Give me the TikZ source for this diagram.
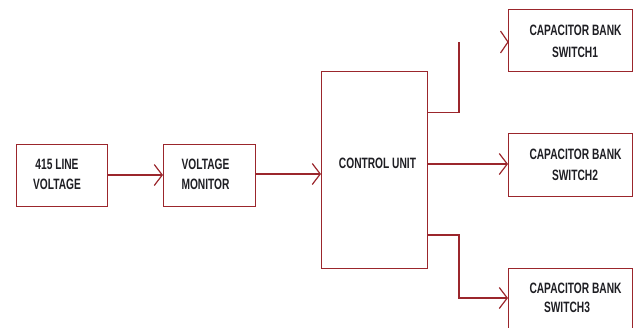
\documentclass[tikz,border=0pt]{standalone}
\usepackage{fontspec}
\newfontfamily\labfont[FakeStretch=0.68]{Liberation Sans Bold}
\usetikzlibrary{arrows.meta}
\definecolor{wire}{RGB}{155,38,44}
\tikzset{
  box/.style={draw=wire, line width=1.3pt, minimum width=#1, anchor=north west, inner sep=0pt},
  lab/.style={font=\labfont\fontsize{15}{15}\selectfont, text={rgb,255:red,30;green,30;blue,35}, inner sep=0pt, anchor=center},
  wireline/.style={draw=wire, line width=1.3pt},
  arr/.style={wireline, -{Straight Barb[length=8pt,width=21pt,line width=1.2pt]}},
}
\begin{document}
\begin{tikzpicture}[x=1pt,y=-1pt]
\useasboundingbox (0,0) rectangle (637,327);
% boxes
\node[box=91pt, minimum height=62pt] (lv) at (16,144) {};
\node[box=92pt, minimum height=62pt] (vm) at (163,144) {};
\node[box=106pt, minimum height=197pt] (cu) at (321,71) {};
\node[box=124pt, minimum height=62pt] (cb1) at (508,9) {};
\node[box=124pt, minimum height=63pt] (cb2) at (508,133) {};
\node[box=124pt, minimum height=70pt] (cb3) at (508,268) {};
% labels
\node[lab] (t1a) at (57,164) {415 LINE};
\node[lab] (t1b) at (57,184) {VOLTAGE};
\node[lab] (t2a) at (205.5,164) {VOLTAGE};
\node[lab] (t2b) at (205.5,184) {MONITOR};
\node[lab] (t3) at (377.5,163.5) {CONTROL UNIT};
\node[lab] (t4a) at (575.5,30) {CAPACITOR BANK};
\node[lab] (t4b) at (575,52) {SWITCH1};
\node[lab] (t5a) at (575.5,154) {CAPACITOR BANK};
\node[lab] (t5b) at (575,175) {SWITCH2};
\node[lab] (t6a) at (575.5,288) {CAPACITOR BANK};
\node[lab] (t6b) at (567,307) {SWITCH3};
% connectors
\draw[arr] (lv.east |- 0,175) -- (vm.west |- 0,175);
\draw[arr] (vm.east |- 0,174) -- (cu.west |- 0,174);
\coordinate (k1) at (459,112.5);
\coordinate (k1t) at (459,42);
\draw[wireline] (cu.east |- k1) -- (k1) -- (k1t);
\coordinate (h1) at (500.5,31);
\coordinate (h2) at (500.5,53);
\draw[wireline, line width=1.2pt, line join=miter] (h1) -- (cb1.west |- 0,42) -- (h2);
\draw[arr] (cu.east |- 0,164) -- (cb2.west |- 0,164);
\coordinate (k3a) at (459,235);
\coordinate (k3b) at (459,298);
\draw[arr] (cu.east |- k3a) -- (k3a) -- (k3b) -- (cb3.west |- k3b);
\end{tikzpicture}
\end{document}
